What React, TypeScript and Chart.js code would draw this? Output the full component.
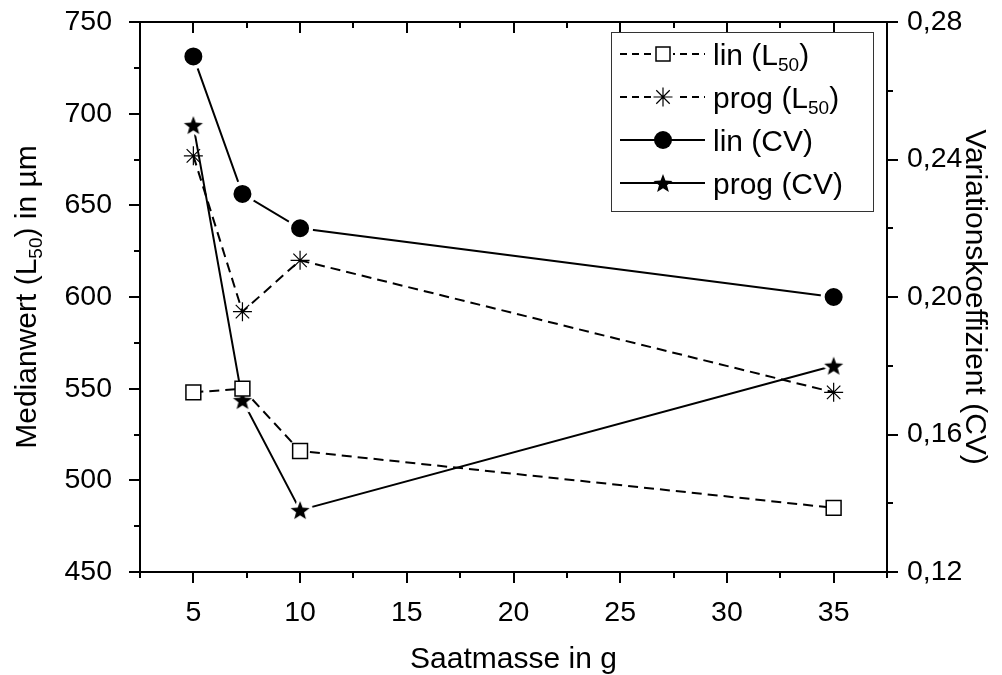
import React, { useEffect, useRef } from 'react';
import { Chart, registerables } from 'chart.js';
Chart.register(...registerables);

const xValues = [5, 7.3, 10, 35];
const linL50 = [548, 550, 516, 485];
const progL50 = [677, 592, 620, 548];
const linCV = [0.27, 0.23, 0.22, 0.2];
const progCV = [0.25, 0.17, 0.138, 0.18];

const xTicks = [5, 10, 15, 20, 25, 30, 35];
const yTicks = [450, 500, 550, 600, 650, 700, 750];
const y1Ticks = [0.12, 0.16, 0.2, 0.24, 0.28];

const xTitle = 'Saatmasse in g';
const yTitle = [{ t: 'Medianwert (L' }, { t: '50', sub: true }, { t: ') in µm' }];
const y1Title = [{ t: 'Variationskoeffizient (CV)' }];
const legendLabels = [
  [{ t: 'lin (L' }, { t: '50', sub: true }, { t: ')' }],
  [{ t: 'prog (L' }, { t: '50', sub: true }, { t: ')' }],
  [{ t: 'lin (CV)' }],
  [{ t: 'prog (CV)' }],
];

const FONT = '"Liberation Sans", Arial, Helvetica, sans-serif';
const TICK_FS = 28.5;
const TITLE_FS = 30;
const LEG_FS = 30;

type Seg = { t: string; sub?: boolean };

function makeStar(r: number, halo: number) {
  const c = document.createElement('canvas');
  const s = Math.ceil(r * 2 + halo * 2 + 2);
  c.width = s;
  c.height = s;
  const g = c.getContext('2d')!;
  g.beginPath();
  for (let i = 0; i < 10; i++) {
    const rad = i % 2 === 0 ? r : r * 0.42;
    const a = -Math.PI / 2 + (i * Math.PI) / 5;
    const px = s / 2 + rad * Math.cos(a);
    const py = s / 2 + 1 + rad * Math.sin(a);
    if (i === 0) g.moveTo(px, py);
    else g.lineTo(px, py);
  }
  g.closePath();
  if (halo > 0) {
    g.strokeStyle = '#fff';
    g.lineWidth = halo * 2;
    g.lineJoin = 'round';
    g.stroke();
  }
  g.fillStyle = '#000';
  g.fill();
  return c;
}

function richWidth(ctx: CanvasRenderingContext2D, segs: Seg[], size: number) {
  let w = 0;
  for (const s of segs) {
    ctx.font = `${s.sub ? Math.round(size * 0.62) : size}px ${FONT}`;
    w += ctx.measureText(s.t).width;
  }
  return w;
}

function drawRich(ctx: CanvasRenderingContext2D, segs: Seg[], x: number, baseline: number, size: number, align: 'left' | 'center') {
  const w = richWidth(ctx, segs, size);
  let cx = align === 'center' ? x - w / 2 : x;
  ctx.textAlign = 'left';
  ctx.textBaseline = 'alphabetic';
  ctx.fillStyle = '#000';
  for (const s of segs) {
    const fs = s.sub ? Math.round(size * 0.62) : size;
    ctx.font = `${fs}px ${FONT}`;
    ctx.fillText(s.t, cx, baseline + (s.sub ? size * 0.2 : 0));
    cx += ctx.measureText(s.t).width;
  }
}

export default function App() {
  const ref = useRef<HTMLCanvasElement>(null);
  useEffect(() => {
    document.body.style.margin = '0';
    const star = makeStar(10, 3);
    const legendStar = makeStar(10, 0);

    const framePlugin = {
      id: 'frame',
      afterDraw(chart: any) {
        const ctx: CanvasRenderingContext2D = chart.ctx;
        const { left, right, top, bottom } = chart.chartArea;
        const xs = chart.scales.x;
        const ys = chart.scales.y;
        const y1s = chart.scales.y1;
        ctx.save();
        ctx.strokeStyle = '#000';
        ctx.lineWidth = 2;
        ctx.beginPath();
        ctx.rect(left, top, right - left, bottom - top);
        ctx.stroke();
        ctx.beginPath();
        for (let i = 0; i <= 14; i++) {
          const v = 2.5 + i * 2.5;
          const px = Math.round(xs.getPixelForValue(v));
          const len = i % 2 === 1 ? 11 : 6;
          ctx.moveTo(px, bottom);
          ctx.lineTo(px, bottom + len);
          ctx.moveTo(px, top);
          ctx.lineTo(px, top + len);
        }
        for (let i = 0; i <= 12; i++) {
          const v = 450 + i * 25;
          const py = Math.round(ys.getPixelForValue(v));
          const len = i % 2 === 0 ? 11 : 6;
          ctx.moveTo(left, py);
          ctx.lineTo(left - len, py);
        }
        for (let i = 0; i <= 8; i++) {
          const v = 0.12 + i * 0.02;
          const py = Math.round(y1s.getPixelForValue(v));
          const len = i % 2 === 0 ? 11 : 6;
          ctx.moveTo(right, py);
          ctx.lineTo(right + len, py);
        }
        ctx.stroke();

        const midY = (top + bottom) / 2;
        drawRich(ctx, [{ t: xTitle }], (left + right) / 2, 657 + TITLE_FS * 0.36, TITLE_FS, 'center');
        ctx.save();
        ctx.translate(25, midY);
        ctx.rotate(-Math.PI / 2);
        drawRich(ctx, yTitle, 0, TITLE_FS * 0.36, TITLE_FS, 'center');
        ctx.restore();
        ctx.save();
        ctx.translate(977, midY);
        ctx.rotate(Math.PI / 2);
        drawRich(ctx, y1Title, 0, TITLE_FS * 0.36, TITLE_FS, 'center');
        ctx.restore();

        // legend
        const bx = 611, by = 32, bw = 262, bh = 179;
        ctx.fillStyle = '#fff';
        ctx.fillRect(bx, by, bw, bh);
        ctx.strokeStyle = '#333';
        ctx.lineWidth = 1;
        ctx.strokeRect(bx + 0.5, by + 0.5, bw, bh);
        for (let i = 0; i < 4; i++) {
          const cy = 54 + i * 43;
          ctx.strokeStyle = '#000';
          ctx.lineWidth = 2;
          ctx.setLineDash(i < 2 ? [7, 5] : []);
          ctx.beginPath();
          ctx.moveTo(620, cy);
          ctx.lineTo(705, cy);
          ctx.stroke();
          ctx.setLineDash([]);
          const mx = 663;
          if (i === 0) {
            ctx.fillStyle = '#fff';
            ctx.fillRect(mx - 10, cy - 10, 20, 20);
            ctx.lineWidth = 1.5;
            ctx.strokeRect(mx - 7, cy - 7, 14, 14);
          } else if (i === 1) {
            ctx.fillStyle = '#fff';
            ctx.fillRect(mx - 12, cy - 12, 24, 24);
            ctx.lineWidth = 1.2;
            ctx.beginPath();
            for (let k = 0; k < 4; k++) {
              const a = (k * Math.PI) / 4;
              ctx.moveTo(mx - 9.5 * Math.cos(a), cy - 9.5 * Math.sin(a));
              ctx.lineTo(mx + 9.5 * Math.cos(a), cy + 9.5 * Math.sin(a));
            }
            ctx.stroke();
          } else if (i === 2) {
            ctx.fillStyle = '#000';
            ctx.beginPath();
            ctx.arc(mx, cy, 9, 0, Math.PI * 2);
            ctx.fill();
          } else {
            ctx.drawImage(legendStar, mx - legendStar.width / 2, cy - legendStar.height / 2);
          }
          drawRich(ctx, legendLabels[i], 713, cy + LEG_FS * 0.36, LEG_FS, 'left');
        }
        ctx.restore();
      },
    };

    const tickFont = { family: FONT, size: TICK_FS };
    const mk = (vals: number[]) => vals.map((v, i) => ({ x: xValues[i], y: v }));
    const chart = new Chart(ref.current!, {
      type: 'line',
      data: {
        datasets: [
          {
            label: 'lin (L50)',
            data: mk(linL50),
            yAxisID: 'y',
            borderColor: '#000',
            borderWidth: 2,
            borderDash: [10, 6],
            pointStyle: 'rect',
            pointRadius: 10.5,
            pointBorderWidth: 1.5,
            pointBackgroundColor: '#fff',
            pointBorderColor: '#000',
          },
          {
            label: 'prog (L50)',
            data: mk(progL50),
            yAxisID: 'y',
            borderColor: '#000',
            borderWidth: 2,
            borderDash: [10, 6],
            pointStyle: 'star',
            pointRadius: 9.5,
            pointBorderWidth: 1.2,
            pointBackgroundColor: '#fff',
            pointBorderColor: '#000',
          },
          {
            label: 'lin (CV)',
            data: mk(linCV),
            yAxisID: 'y1',
            borderColor: '#000',
            borderWidth: 2,
            pointStyle: 'circle',
            pointRadius: 11,
            pointBorderWidth: 4,
            pointBackgroundColor: '#000',
            pointBorderColor: '#fff',
          },
          {
            label: 'prog (CV)',
            data: mk(progCV),
            yAxisID: 'y1',
            borderColor: '#000',
            borderWidth: 2,
            pointStyle: star as any,
            pointRadius: 11,
            pointBackgroundColor: '#000',
            pointBorderColor: '#000',
          },
        ],
      },
      options: {
        responsive: false,
        animation: false,
        devicePixelRatio: 1,
        layout: { padding: { top: 22, left: 0, right: 0, bottom: 0 } },
        plugins: { legend: { display: false }, tooltip: { enabled: false } },
        scales: {
          x: {
            type: 'linear',
            position: 'bottom',
            min: 2.5,
            max: 37.5,
            afterBuildTicks: (s: any) => {
              s.ticks = xTicks.map((v) => ({ value: v }));
            },
            afterFit: (s: any) => {
              s.height = 103;
              s.paddingLeft = 0;
              s.paddingRight = 0;
            },
            grid: { display: false },
            border: { display: false },
            ticks: { color: '#000', font: tickFont, padding: 16, maxRotation: 0, autoSkip: false },
          },
          y: {
            type: 'linear',
            position: 'left',
            min: 450,
            max: 750,
            afterBuildTicks: (s: any) => {
              s.ticks = yTicks.map((v) => ({ value: v }));
            },
            afterFit: (s: any) => {
              s.width = 140;
              s.paddingTop = 0;
              s.paddingBottom = 0;
            },
            grid: { display: false },
            border: { display: false },
            ticks: { color: '#000', font: tickFont, padding: 20, autoSkip: false },
          },
          y1: {
            type: 'linear',
            position: 'right',
            min: 0.12,
            max: 0.28,
            afterBuildTicks: (s: any) => {
              s.ticks = y1Ticks.map((v) => ({ value: v }));
            },
            afterFit: (s: any) => {
              s.width = 115;
              s.paddingTop = 0;
              s.paddingBottom = 0;
            },
            grid: { display: false },
            border: { display: false },
            ticks: {
              color: '#000',
              font: tickFont,
              padding: 12,
              autoSkip: false,
              callback: (v: any) => Number(v).toFixed(2).replace('.', ','),
            },
          },
        },
      },
      plugins: [framePlugin],
    });
    return () => chart.destroy();
  }, []);
  return (
    <div style={{ width: 1002, height: 675 }}>
      <canvas ref={ref} width={1002} height={675} style={{ display: 'block' }} />
    </div>
  );
}
